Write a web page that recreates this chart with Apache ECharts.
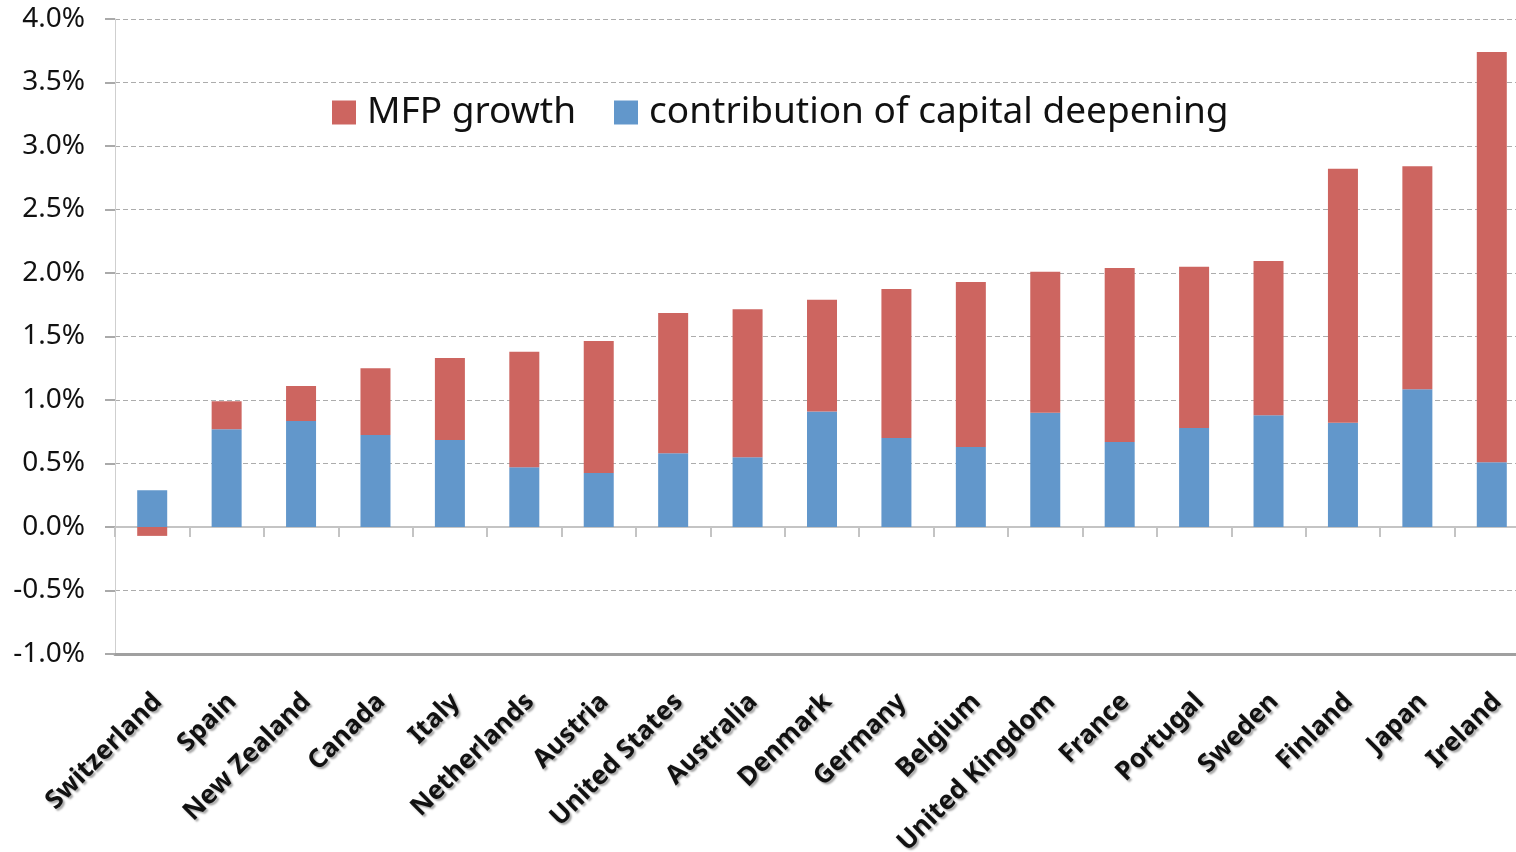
<!DOCTYPE html>
<html>
<head>
<meta charset="utf-8">
<script src="https://cdn.jsdelivr.net/npm/echarts@6/dist/echarts.min.js"></script>
<style>
html,body{margin:0;padding:0;background:#fff;overflow:hidden;}
#chart{width:1516px;height:852px;}
</style>
</head>
<body>
<div id="chart"></div>
<script>
const categories = ["Switzerland","Spain","New Zealand","Canada","Italy","Netherlands","Austria","United States","Australia","Denmark","Germany","Belgium","United Kingdom","France","Portugal","Sweden","Finland","Japan","Ireland"];
const capitalDeepening = [0.29,0.77,0.835,0.725,0.685,0.47,0.425,0.58,0.55,0.91,0.70,0.63,0.90,0.67,0.78,0.88,0.82,1.085,0.51];
const mfpGrowth = [-0.07,0.22,0.275,0.525,0.645,0.91,1.04,1.105,1.165,0.88,1.175,1.30,1.11,1.37,1.27,1.215,2.0,1.755,3.23];
const yTicks = {min:-1, max:4, interval:0.5};

const chart = echarts.init(document.getElementById('chart'), null, {renderer:'canvas'});
const font = '"Noto Sans", "Open Sans", sans-serif';
chart.setOption({
  animation:false,
  backgroundColor:'#fff',
  grid:{left:115, top:19, width:1414, height:635, containLabel:false, outerBoundsMode:'none'},
  legend:{
    data:['MFP growth','contribution of capital deepening'],
    left:327, top:89, icon:'rect', itemWidth:24, itemHeight:24, itemGap:38,
    textStyle:{fontFamily:font, fontSize:37, color:'#111', padding:[6,0,0,6]}
  },
  xAxis:[
    {type:'category', data:categories, gridIndex:0, position:'bottom',
     axisLine:{onZero:false, lineStyle:{color:'#a0a0a0', width:3}},
     axisTick:{show:false},
     axisLabel:{interval:0, rotate:45, margin:38, fontFamily:font, fontSize:26, fontWeight:'bold', color:'#111',
       verticalAlign:'top', lineHeight:16,
       textShadowColor:'rgba(0,0,0,0.35)', textShadowOffsetX:2, textShadowOffsetY:2, textShadowBlur:2}
    },
    {type:'category', data:categories, gridIndex:0, position:'bottom',
     axisLine:{onZero:true, lineStyle:{color:'#c4c4c4', width:2}},
     axisTick:{show:true, interval:0, length:10, inside:false, lineStyle:{color:'#c4c4c4', width:2}},
     axisLabel:{show:false}
    }
  ],
  yAxis:{type:'value', min:yTicks.min, max:yTicks.max, interval:yTicks.interval,
    axisLine:{show:true, lineStyle:{color:'#cfcfcf', width:1}},
    axisTick:{show:true, length:10, lineStyle:{color:'#aaaaaa', width:2}},
    splitLine:{show:true, lineStyle:{color:'#acacac', type:[5,3], width:1}},
    axisLabel:{margin:30, fontFamily:font, fontSize:28, color:'#111', padding:[8,0,0,0], formatter:v=>v.toFixed(1)+'%'}
  },
  series:[
    {name:'contribution of capital deepening', type:'bar', stack:'t', data:capitalDeepening, barWidth:30,
     itemStyle:{color:'#6297CB'}},
    {name:'MFP growth', type:'bar', stack:'t', data:mfpGrowth, barWidth:30,
     itemStyle:{color:'#CD6560'}}
  ]
});
</script>
</body>
</html>
